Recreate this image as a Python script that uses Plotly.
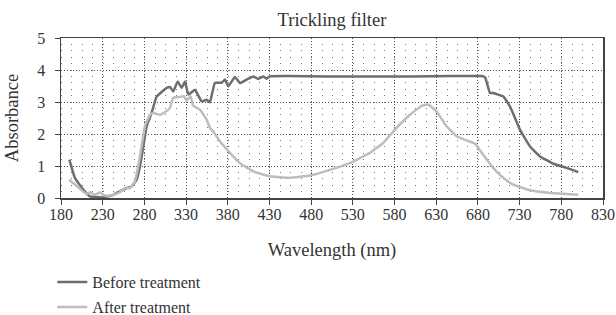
import plotly.graph_objects as go

# Before treatment (wavelength nm, absorbance)
before_x = [190, 196.8, 206.7, 214.7, 222, 230.7, 242.7, 250.7, 258.7, 264.7, 270.7, 274.7, 278.7, 282.7,
            288.7, 294.7, 306.7, 310.7, 314.6, 320, 324.7, 328.7, 332.7, 340.7, 348.7, 354.7, 358.6,
            364.6, 372.6, 376.6, 380.6, 388.6, 394.6, 402.6, 410.5, 416.5, 422.5, 426.5, 430.5,
            450, 500, 550, 600, 650, 684.6, 688.6, 694.5, 698.5, 710.5, 718.5, 730.5, 742.5,
            754.5, 770.5, 786.4, 800.4]
before_y = [1.2, 0.62, 0.26, 0.05, 0.03, 0.02, 0.10, 0.21, 0.31, 0.36, 0.57, 0.99, 1.61, 2.24,
            2.66, 3.17, 3.44, 3.47, 3.33, 3.64, 3.44, 3.64, 3.23, 3.38, 3.02, 3.07, 2.99,
            3.6, 3.6, 3.7, 3.49, 3.78, 3.59, 3.70, 3.80, 3.72, 3.80, 3.73, 3.80,
            3.81, 3.80, 3.80, 3.80, 3.81, 3.81, 3.77, 3.28, 3.28, 3.17, 2.86, 2.13, 1.61,
            1.30, 1.07, 0.94, 0.81]

# After treatment
after_x = [189.6, 196.8, 204.8, 210.8, 214.7, 220.7, 226.7, 230.7, 234.7, 242.6, 250.6, 256.6, 262.6,
           268.6, 272.6, 276.6, 280.6, 286.6, 290.6, 298.6, 304.6, 310.5, 314.6, 322.6, 327.4,
           330.6, 335.4, 338.6, 346.6, 354.6, 358.6, 362.6, 370.6, 382.6, 394.6, 410.5, 430.5,
           454.5, 478.5, 502.5, 526.4, 550.4, 566.4, 582.4, 598.4, 612.4, 620.4, 630.4, 642.4,
           654.4, 666.4, 676.3, 686.3, 698.3, 710.3, 722.3, 742.3, 766.2, 790.2, 800.4]
after_y = [0.57, 0.42, 0.24, 0.12, 0.18, 0.10, 0.17, 0.10, 0.07, 0.10, 0.18, 0.31, 0.31,
           0.52, 0.99, 1.61, 2.24, 2.60, 2.66, 2.60, 2.68, 2.81, 3.13, 3.16, 3.18,
           3.05, 3.18, 2.88, 2.76, 2.45, 2.19, 2.08, 1.77, 1.41, 1.09, 0.83, 0.68,
           0.63, 0.70, 0.88, 1.09, 1.41, 1.72, 2.19, 2.60, 2.88, 2.92, 2.71, 2.24,
           1.93, 1.80, 1.70, 1.35, 0.94, 0.63, 0.42, 0.24, 0.16, 0.12, 0.10]

x_ticks = list(range(180, 831, 50))
y_ticks = [0, 1, 2, 3, 4, 5]

FONT = "Liberation Serif"
TXT = "#333333"
W, H = 616, 315

fig = go.Figure()
fig.add_trace(go.Scatter(x=before_x, y=before_y, mode="lines", name="Before treatment",
                         legendgroup="b",
                         line=dict(color="#6e6e6e", width=2.5, shape="spline", smoothing=0.3)))
fig.add_trace(go.Scatter(x=after_x, y=after_y, mode="lines", name="After treatment",
                         legendgroup="a",
                         line=dict(color="#bdbdbd", width=2.5, shape="spline", smoothing=0.3)))

fig.update_layout(
    width=W, height=H,
    margin=dict(l=61, r=13, t=38, b=117, autoexpand=False),
    paper_bgcolor="white", plot_bgcolor="white",
    font=dict(family=FONT, size=16, color=TXT),
    title=dict(text="Trickling filter", x=0.5, xanchor="center", xref="paper",
               y=1 - 20 / H, yref="container", yanchor="middle",
               font=dict(family=FONT, size=18.5, color=TXT)),
    showlegend=True,
    legend=dict(x=-0.016, xanchor="left", y=-0.42, yanchor="top", orientation="v",
                font=dict(family=FONT, size=16, color=TXT), bgcolor="rgba(0,0,0,0)",
                tracegroupgap=1, itemwidth=30),
)

fig.update_xaxes(
    range=[180, 830], tickvals=x_ticks, ticktext=[str(v) for v in x_ticks],
    showline=True, linecolor="#444444", linewidth=1.5, mirror=True,
    ticks="outside", ticklen=5, tickcolor="#444444", tickwidth=1,
    showgrid=True, gridcolor="#555555", gridwidth=1, griddash="1px,2px",
    zeroline=False, automargin=False, ticklabelstandoff=-4,
    title=dict(text="Wavelength (nm)", font=dict(family=FONT, size=18.5, color=TXT), standoff=21),
    tickfont=dict(family=FONT, size=16, color=TXT),
)
fig.update_yaxes(
    range=[0, 5], tickvals=y_ticks, ticktext=[str(v) for v in y_ticks],
    showline=True, linecolor="#444444", linewidth=1.5, mirror=True,
    ticks="outside", ticklen=5, tickcolor="#444444", tickwidth=1,
    showgrid=True, gridcolor="#555555", gridwidth=1, griddash="1px,2px",
    zeroline=False, automargin=False, ticklabelstandoff=6,
    minor=dict(dtick=0.2, showgrid=True, gridcolor="#777777", gridwidth=1, griddash="1px,9.42px",
               ticks=""),
    title=dict(text="Absorbance", font=dict(family=FONT, size=18.5, color=TXT), standoff=14),
    tickfont=dict(family=FONT, size=16, color=TXT),
)

fig.write_html(
    "out.html",
    config={"displayModeBar": False, "staticPlot": True},
    post_script="document.body.style.margin='0';document.body.style.overflow='hidden';"
                "document.documentElement.style.overflow='hidden';",
)
